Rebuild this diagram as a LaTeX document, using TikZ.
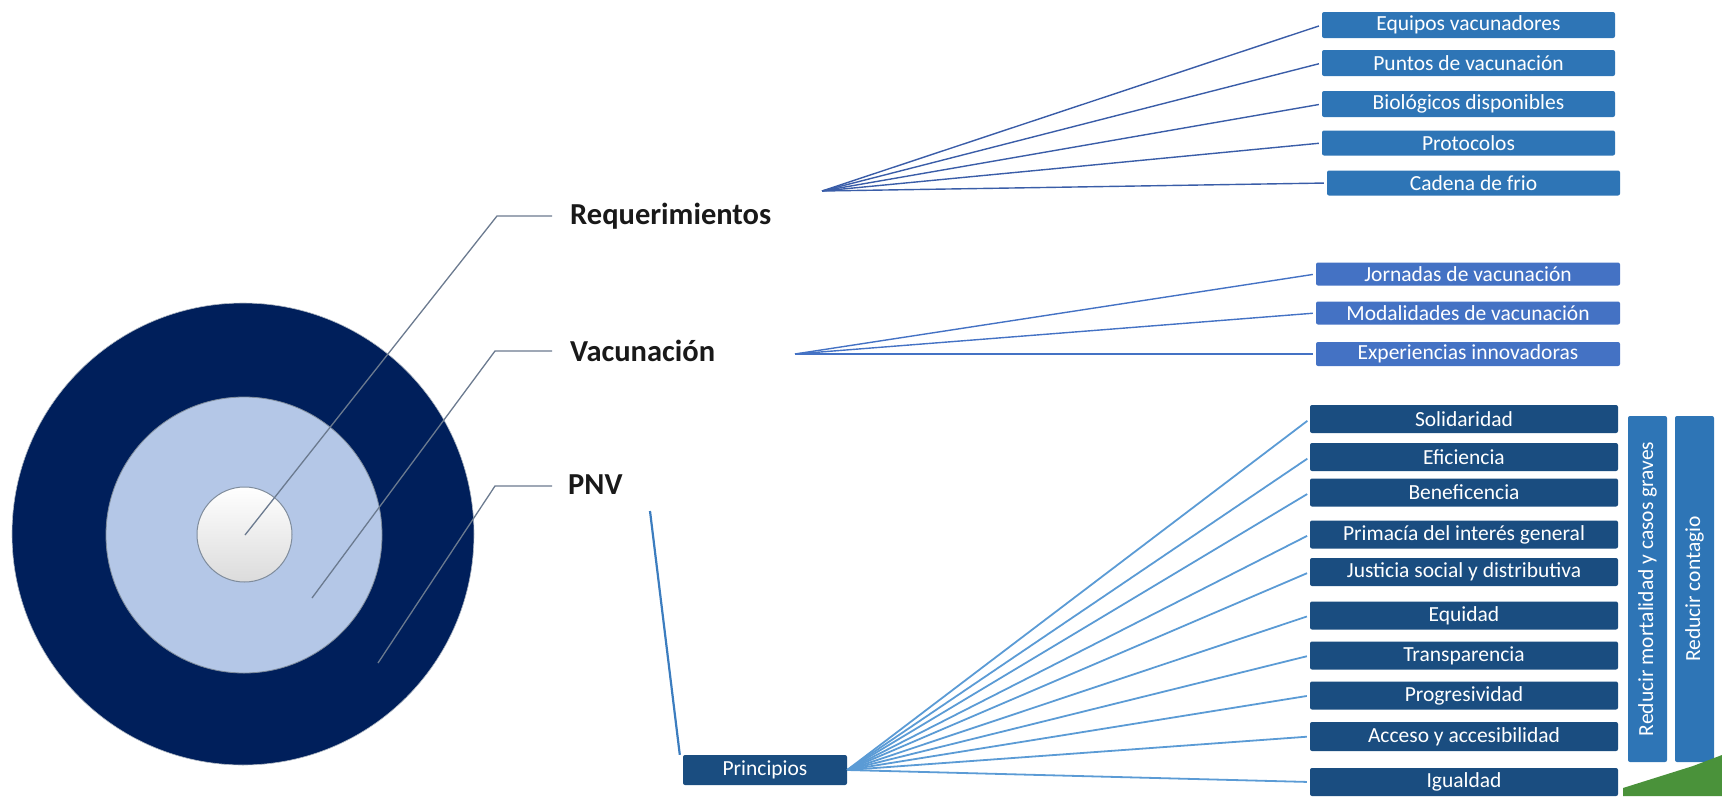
\documentclass[tikz,border=0pt]{standalone}
\usepackage{fontspec}
\setmainfont{Carlito}
\definecolor{navy}{HTML}{001F5B}
\definecolor{midring}{HTML}{B4C7E7}
\definecolor{ringline}{HTML}{7F8C9C}
\definecolor{leader}{HTML}{6B7A8F}
\definecolor{reqblue}{HTML}{2E75B6}
\definecolor{vacblue}{HTML}{4472C4}
\definecolor{prinblue}{HTML}{1A4D80}
\definecolor{reqfan}{HTML}{3A5DA8}
\definecolor{prinfan}{HTML}{5B9BD5}
\definecolor{pnvline}{HTML}{3C7DBF}
\definecolor{grass}{HTML}{4A923A}
\newcommand{\boxfont}{\fontsize{21.5}{24}\selectfont}
\begin{document}
\begin{tikzpicture}[x=1pt,y=-1pt,
  basebox/.style={text=white, rounded corners=2pt, inner sep=0pt, font=\boxfont},
  reqbox/.style={basebox, fill=reqblue, minimum width=293pt, minimum height=26pt},
  vacbox/.style={basebox, fill=vacblue, minimum width=304pt, minimum height=23pt},
  prinbox/.style={basebox, fill=prinblue, minimum width=308pt, minimum height=28pt},
  vertbox/.style={basebox, fill=reqblue, rotate=90, minimum width=346pt, minimum height=39pt},
  biglabel/.style={font=\fontsize{30.5}{36}\selectfont\bfseries, text=black!90, anchor=west, inner sep=0pt},
  leaderline/.style={draw=leader, line width=1.3pt},
  reqline/.style={draw=reqfan, line width=1.4pt, shorten >=3pt},
  vacline/.style={draw=vacblue, line width=1.4pt, shorten >=3pt},
  prinline/.style={draw=prinfan, line width=1.8pt, shorten >=3pt}
]
\useasboundingbox (0,0) rectangle (1722,796);

% rings
\fill[navy, draw=ringline!60, line width=0.6pt] (243,534) circle (231);
\fill[midring, draw=ringline, line width=0.8pt] (244,535) circle (138);
\shade[top color=white, middle color=white, bottom color=black!14] (244.5,534.5) circle (47.5);
\draw[ringline, line width=1pt] (244.5,534.5) circle (47.5);

% labels
\node[biglabel] (req) at (570,216) {Requerimientos};
\node[biglabel] (vac) at (570,351) {Vacunación};
\node[biglabel] (pnv) at (568,485) {PNV};

% leader lines
\coordinate (l1s) at (245,535);
\coordinate (l1m) at (497,216);
\coordinate (l1e) at (552,216);
\coordinate (l2s) at (312,598);
\coordinate (l2m) at (495,351);
\coordinate (l2e) at (552,351);
\coordinate (l3s) at (378,663);
\coordinate (l3m) at (495,486);
\coordinate (l3e) at (552,486);
\draw[leaderline] (l1s) -- (l1m) -- (l1e);
\draw[leaderline] (l2s) -- (l2m) -- (l2e);
\draw[leaderline] (l3s) -- (l3m) -- (l3e);

% requerimientos boxes
\node[reqbox] (r1) at (1468.5,25) {Equipos vacunadores};
\node[reqbox] (r2) at (1468.5,63) {Puntos de vacunación};
\node[reqbox] (r3) at (1468.5,104) {Biológicos disponibles};
\node[reqbox, minimum height=25pt] (r4) at (1468.5,143) {Protocolos};
\node[reqbox, minimum height=25pt] (r5) at (1473.5,183) {Cadena de frio};
\coordinate (rq) at (822,191);
\foreach \b in {r1,r2,r3,r4,r5} \draw[reqline] (rq) -- (\b.west);

% vacunacion boxes
\node[vacbox] (v1) at (1468,274) {Jornadas de vacunación};
\node[vacbox] (v2) at (1468,313) {Modalidades de vacunación};
\node[vacbox, minimum height=24pt] (v3) at (1468,354) {Experiencias innovadoras};
\coordinate (vq) at (795,354);
\foreach \b in {v1,v2,v3} \draw[vacline] (vq) -- (\b.west);

% principios
\node[basebox, fill=prinblue, minimum width=164pt, minimum height=30pt] (prin) at (765,770) {Principios};
\coordinate (pnvs) at (650,511);
\draw[draw=pnvline, line width=2.2pt] (pnvs) -- ([xshift=-3pt]prin.north west);

\node[prinbox] (p1) at (1464,419) {Solidaridad};
\node[prinbox] (p2) at (1464,457) {Eficiencia};
\node[prinbox] (p3) at (1464,492.5) {Beneficencia};
\node[prinbox] (p4) at (1464,534.5) {Primacía del interés general};
\node[prinbox] (p5) at (1464,572) {Justicia social y distributiva};
\node[prinbox] (p6) at (1464,615.5) {Equidad};
\node[prinbox] (p7) at (1464,655.5) {Transparencia};
\node[prinbox] (p8) at (1464,695.5) {Progresividad};
\node[prinbox, minimum height=29pt] (p9) at (1464,736.5) {Acceso y accesibilidad};
\node[prinbox] (p10) at (1464,782) {Igualdad};
\foreach \b in {p1,p2,p3,p4,p5,p6,p7,p8,p9,p10} \draw[prinline] (prin.east) -- (\b.west);

% vertical boxes
\node[vertbox] (m1) at (1647.5,589) {Reducir mortalidad y casos graves};
\node[vertbox] (m2) at (1694.5,589) {Reducir contagio};

% green corner
\fill[grass] (1623,796) -- (1623,788) -- (1693,766) -- (1722,755) -- (1722,796) -- cycle;
\end{tikzpicture}
\end{document}
